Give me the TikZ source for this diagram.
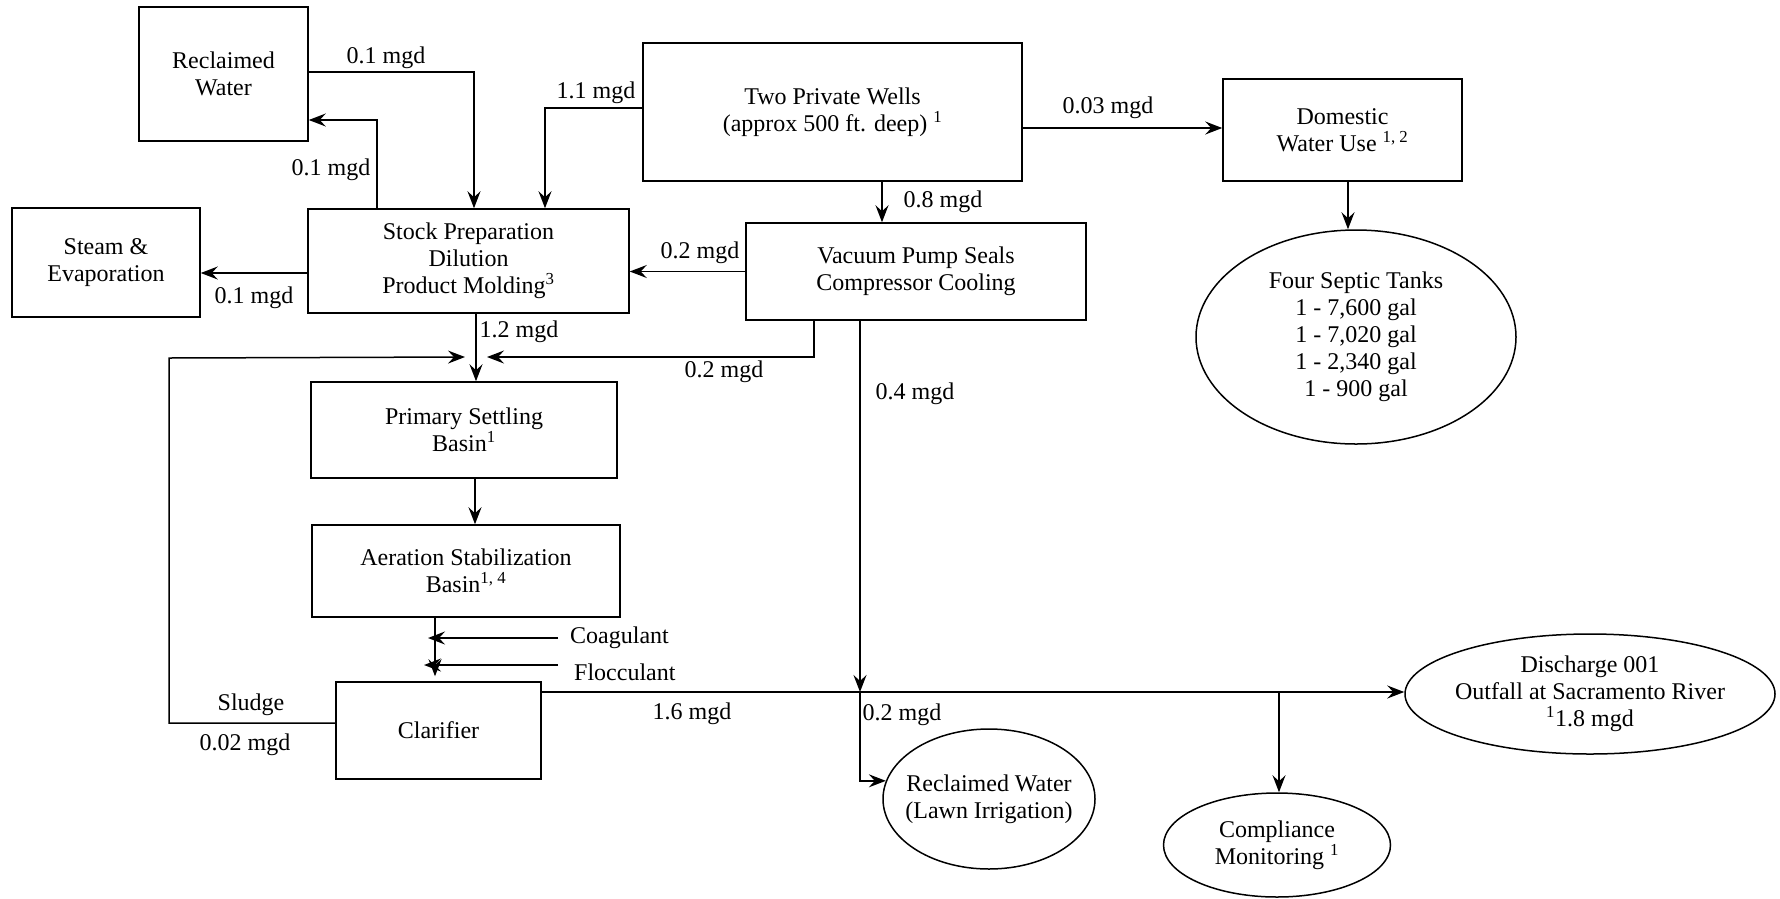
\documentclass[tikz,border=0pt]{standalone}
\usepackage{fontspec}
\setmainfont{Liberation Serif}
\usetikzlibrary{arrows.meta,shapes.geometric,calc}
\begin{document}
\begin{tikzpicture}[x=1pt,y=-1pt,
  every node/.style={font=\fontsize{24}{27}\selectfont, align=center, inner sep=0pt},
  box/.style={draw, line width=1.5pt, rectangle},
  oval/.style={draw, line width=1.5pt, ellipse},
  arr/.style={line width=1.5pt, -{Stealth[length=17pt,width=13pt,inset=6pt]}},
  ln/.style={line width=1.5pt}]
\useasboundingbox (0,0) rectangle (1780,898);

% boxes
\node[box, minimum width=169pt, minimum height=134pt] (rw) at (223.5,74) {Reclaimed\\Water};
\node[box, minimum width=188pt, minimum height=109pt] (steam) at (106,262.5) {Steam \&\\Evaporation};
\node[box, minimum width=321pt, minimum height=104pt] (stock) at (468.5,261) {Stock Preparation\\Dilution\\Product Molding\textsuperscript{3}};
\node[box, minimum width=379pt, minimum height=138pt] (wells) at (832.5,112) {Two Private Wells\\(approx 500 ft. deep) \textsuperscript{1}};
\node[box, minimum width=239pt, minimum height=102pt] (dom) at (1342.5,130) {Domestic\\Water Use \textsuperscript{1, 2}};
\node[box, minimum width=340pt, minimum height=97pt] (vac) at (916,271.5) {Vacuum Pump Seals\\Compressor Cooling};
\node[box, minimum width=306pt, minimum height=96pt] (prim) at (464,430) {Primary Settling\\Basin\textsuperscript{1}};
\node[box, minimum width=308pt, minimum height=92pt] (aer) at (466,571) {Aeration Stabilization\\Basin\textsuperscript{1, 4}};
\node[box, minimum width=205pt, minimum height=97pt] (clar) at (438.5,730.5) {Clarifier};

% ellipses
\node[oval, minimum width=320pt, minimum height=214pt] (sep) at (1356,337) {Four Septic Tanks\\1 - 7,600 gal\\1 - 7,020 gal\\1 - 2,340 gal\\1 - 900 gal};
\node[oval, minimum width=212pt, minimum height=140pt] (lawn) at (989,799) {\makebox[0pt]{Reclaimed Water}\\\makebox[0pt]{(Lawn Irrigation)}};
\node[oval, minimum width=227pt, minimum height=104pt] (comp) at (1277,845) {Compliance\\Monitoring \textsuperscript{1}};
\node[oval, minimum width=370pt, minimum height=120pt] (dis) at (1590,694) {Discharge 001\\\makebox[0pt]{Outfall at Sacramento River}\\\textsuperscript{1}1.8 mgd};

% chemical labels
\node[anchor=west] (coag) at (570,638) {Coagulant};
\node[anchor=west] (floc) at (574,672) {Flocculant};

% junction coordinates
\coordinate (j1) at (476,357);
\coordinate (sl) at (169,358);
\coordinate (cx) at (440,0);
\coordinate (j2) at (860,692);
\coordinate (j3) at (1279,692);

% connectors
\draw[arr] ([yshift=2pt]rw.east) -| ([xshift=5.5pt]stock.north);
\draw[arr] ([xshift=-91.5pt]stock.north) |- ([yshift=-46pt]rw.east);
\draw[arr] ([yshift=4pt]wells.west) -| ([xshift=76.5pt]stock.north);
\draw[arr] ([yshift=-12pt]stock.west) -- ([yshift=-12pt]stock.west -| steam.east);
\draw[arr] ([yshift=-16pt]wells.east) -- ([yshift=-16pt]wells.east -| dom.west);
\draw[arr] ([xshift=49.5pt]wells.south) -- ([xshift=49.5pt]wells.south |- vac.north);
\draw[arr] (vac.west) -- (vac.west -| stock.east);
\draw[arr] ([xshift=5.5pt]dom.south) -- ([xshift=5.5pt]dom.south |- sep.north);
\draw[arr] ([xshift=7.5pt]stock.south) -- ([xshift=7.5pt]stock.south |- prim.north);
\draw[arr] ([xshift=-102pt]vac.south) |- ([xshift=11pt]j1);
\draw[arr] ([yshift=7.5pt]clar.west) -| (sl) -- ([xshift=-11pt]j1);
\draw[arr] ([xshift=11pt]prim.south) -- ([xshift=11pt]prim.south |- aer.north);
\draw[arr, shorten >=5pt] ([xshift=-31pt]aer.south) -- ([xshift=-31pt]aer.south |- clar.north);
\draw[arr] ([xshift=-12pt]coag.west) -- ([xshift=-12pt]coag.west -| cx);
\draw[arr] ([xshift=-16pt,yshift=7pt]floc.west) -- ([xshift=-16pt,yshift=7pt]floc.west -| cx);
\draw[arr] ([yshift=38.5pt]clar.east) -- ([yshift=38.5pt]clar.east -| dis.west);
\draw[arr] ([xshift=-56pt]vac.south) -- (j2);
\draw[arr] (j2) |- (lawn.170);
\draw[arr] (j3) -- (j3 |- comp.north);

% flow labels
\node (l1) at (386,58) {0.1 mgd};
\node (l2) at (331,170) {0.1 mgd};
\node (l3) at (596,93) {1.1 mgd};
\node (l4) at (254,298) {0.1 mgd};
\node (l5) at (700,253) {0.2 mgd};
\node (l6) at (943,202) {0.8 mgd};
\node (l7) at (1108,108) {0.03 mgd};
\node (l8) at (519,332) {1.2 mgd};
\node (l9) at (724,372) {0.2 mgd};
\node (l10) at (915,394) {0.4 mgd};
\node (l11) at (251,705) {Sludge};
\node (l12) at (245,745) {0.02 mgd};
\node (l13) at (692,714) {1.6 mgd};
\node (l14) at (902,715) {0.2 mgd};
\end{tikzpicture}
\end{document}
